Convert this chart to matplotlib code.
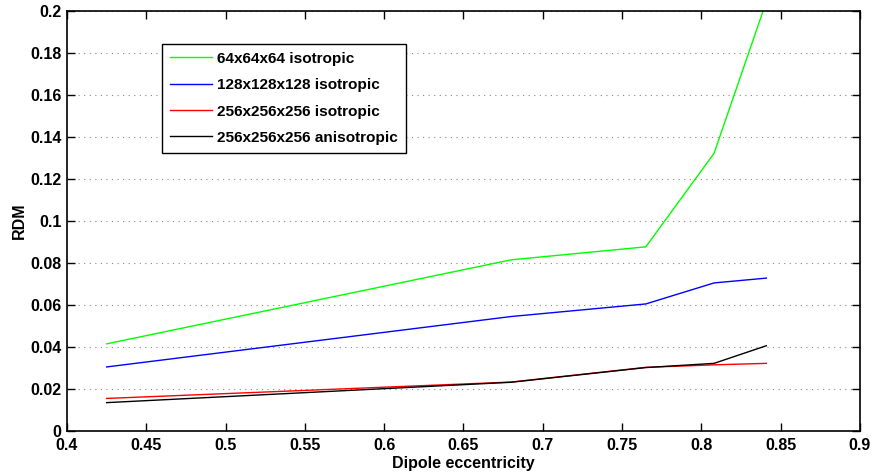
import matplotlib.pyplot as plt
import numpy as np

plt.rcParams['font.family'] = ['Liberation Sans', 'DejaVu Sans']
plt.rcParams['font.weight'] = 'bold'

ecc = [0.425, 0.68, 0.765, 0.808, 0.841]
rdm_64 = [0.0415, 0.0815, 0.0877, 0.1322, 0.2045]
rdm_128 = [0.0305, 0.0545, 0.0605, 0.0705, 0.0728]
rdm_256 = [0.0155, 0.0233, 0.0303, 0.0315, 0.0322]
rdm_256_aniso = [0.0135, 0.0232, 0.0302, 0.0322, 0.0406]

fig = plt.figure(figsize=(8.73, 4.72), dpi=100)
ax = fig.add_axes([0.0768, 0.0869, 0.9082, 0.8898])

ax.plot(ecc, rdm_64, color="#00ff00", lw=1, label="64x64x64 isotropic")
ax.plot(ecc, rdm_128, color="#0000ff", lw=1, label="128x128x128 isotropic")
ax.plot(ecc, rdm_256, color="#ff0000", lw=1, label="256x256x256 isotropic")
ax.plot(ecc, rdm_256_aniso, color="black", lw=1, label="256x256x256 anisotropic")

ax.set_xlim(0.4, 0.9)
ax.set_ylim(0, 0.2)
ax.set_xticks(np.arange(0.4, 0.901, 0.05))
ax.set_yticks(np.arange(0, 0.201, 0.02))
ax.set_xticklabels(["0.4", "0.45", "0.5", "0.55", "0.6", "0.65", "0.7", "0.75", "0.8", "0.85", "0.9"])
ax.set_yticklabels(["0", "0.02", "0.04", "0.06", "0.08", "0.1", "0.12", "0.14", "0.16", "0.18", "0.2"])
ax.tick_params(direction="in", top=True, right=True, length=6, width=1, labelsize=11.5)
ax.tick_params(axis="x", pad=5)
ax.tick_params(axis="y", pad=4)
ax.yaxis.grid(True, linestyle=(0, (1, 4)), color="#888888", lw=0.8)
for s in ax.spines.values():
    s.set_linewidth(1.2)

ax.set_xlabel("Dipole eccentricity", fontsize=11.5, fontweight="bold", labelpad=2)
ax.set_ylabel("RDM", fontsize=11.5, fontweight="bold", labelpad=2)

leg = ax.legend(loc="upper left", bbox_to_anchor=(0.12, 0.921), borderaxespad=0,
                fancybox=False, edgecolor="black", framealpha=1, fontsize=11.1,
                handlelength=2.7, handletextpad=0.35, labelspacing=0.8,
                borderpad=0.5)
leg.get_frame().set_linewidth(1.0)

fig.savefig("out.png", dpi=100)
